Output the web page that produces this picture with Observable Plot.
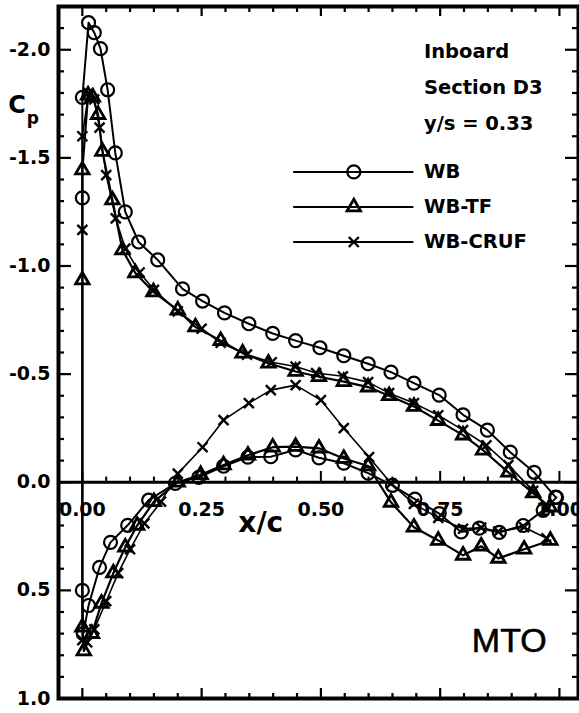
<!DOCTYPE html>
<html><head><meta charset="utf-8">
<script src="https://cdn.jsdelivr.net/npm/d3@7"></script>
<script src="https://cdn.jsdelivr.net/npm/@observablehq/plot@0.6"></script>
<style>body{margin:0;background:#fff}</style>
</head><body><div id="chart"></div>
<script>
// ---- data (x/c, Cp); "upper" lists start at the leading edge
const wbUpperX  = [0, 0, 0.013, 0.025, 0.038, 0.053, 0.069, 0.090, 0.118, 0.158, 0.210, 0.252, 0.298, 0.349, 0.399, 0.447, 0.498, 0.548, 0.599, 0.647, 0.695, 0.748, 0.798, 0.849, 0.897, 0.947, 0.992];
const wbUpperCp = [-1.315, -1.78, -2.125, -2.079, -2.005, -1.815, -1.523, -1.250, -1.111, -1.028, -0.894, -0.838, -0.783, -0.733, -0.688, -0.655, -0.622, -0.585, -0.548, -0.509, -0.458, -0.403, -0.312, -0.241, -0.139, -0.046, 0.069];
const wbLowerX  = [0, 0.002, 0.013, 0.036, 0.059, 0.095, 0.139, 0.195, 0.244, 0.296, 0.347, 0.395, 0.447, 0.496, 0.548, 0.599, 0.650, 0.697, 0.748, 0.794, 0.832, 0.874, 0.924, 0.966, 0.994];
const wbLowerCp = [0.50, 0.70, 0.57, 0.394, 0.278, 0.199, 0.083, 0.005, -0.023, -0.074, -0.116, -0.118, -0.150, -0.113, -0.088, -0.042, 0.014, 0.078, 0.145, 0.230, 0.212, 0.232, 0.200, 0.130, 0.070];

const tfUpperX  = [0, 0, 0.012, 0.022, 0.033, 0.042, 0.063, 0.084, 0.111, 0.149, 0.200, 0.237, 0.290, 0.336, 0.390, 0.447, 0.496, 0.548, 0.599, 0.643, 0.695, 0.746, 0.798, 0.840, 0.893, 0.945, 0.980];
const tfUpperCp = [-0.935, -1.444, -1.79, -1.78, -1.70, -1.53, -1.305, -1.074, -0.968, -0.880, -0.796, -0.718, -0.655, -0.597, -0.550, -0.512, -0.488, -0.465, -0.440, -0.400, -0.350, -0.285, -0.218, -0.148, -0.046, 0.050, 0.115];
const tfLowerX  = [0, 0.003, 0.020, 0.040, 0.065, 0.090, 0.115, 0.150, 0.200, 0.248, 0.296, 0.347, 0.399, 0.447, 0.496, 0.548, 0.599, 0.647, 0.695, 0.746, 0.798, 0.836, 0.872, 0.926, 0.981];
const tfLowerCp = [0.67, 0.78, 0.70, 0.56, 0.42, 0.30, 0.20, 0.09, 0.0, -0.035, -0.080, -0.125, -0.162, -0.165, -0.157, -0.110, -0.075, 0.093, 0.208, 0.269, 0.338, 0.296, 0.352, 0.310, 0.269];

const crufUpperX  = [0, 0, 0.013, 0.025, 0.036, 0.050, 0.070, 0.090, 0.120, 0.150, 0.200, 0.250, 0.290, 0.345, 0.397, 0.447, 0.490, 0.546, 0.599, 0.643, 0.695, 0.746, 0.798, 0.847, 0.893, 0.945, 0.975];
const crufUpperCp = [-1.167, -1.60, -1.80, -1.77, -1.64, -1.42, -1.22, -1.08, -0.97, -0.89, -0.79, -0.71, -0.645, -0.590, -0.555, -0.535, -0.505, -0.490, -0.463, -0.412, -0.366, -0.310, -0.241, -0.171, -0.079, 0.040, 0.120];
const crufLowerX  = [0, 0.010, 0.025, 0.050, 0.075, 0.100, 0.130, 0.165, 0.200, 0.252, 0.296, 0.349, 0.395, 0.447, 0.500, 0.548, 0.601, 0.647, 0.695, 0.746, 0.798, 0.836, 0.872, 0.926, 0.973];
const crufLowerCp = [0.73, 0.74, 0.68, 0.55, 0.42, 0.31, 0.19, 0.09, -0.04, -0.162, -0.287, -0.366, -0.426, -0.449, -0.380, -0.250, -0.116, 0.005, 0.100, 0.165, 0.215, 0.210, 0.228, 0.208, 0.259];

// ---- axes / labels
const xTickValues = [0, 0.25, 0.5, 0.75, 1.0];
const xTickLabels = ["0.00", "0.25", "0.50", "0.75", "1.00"];
const yTickValues = [-2.0, -1.5, -1.0, -0.5, 0.0, 0.5, 1.0];
const yTickLabels = ["-2.0", "-1.5", "-1.0", "-0.5", "0.0", "0.5", "1.0"];
const xMinor = d3.range(0, 21).map(i => i * 0.05);
const yMinor = d3.range(-22, 11).map(i => i / 10);

const legendNames = ["WB", "WB-TF", "WB-CRUF"];
const legendY     = [-1.435, -1.273, -1.111];
const noteLines   = ["Inboard", "Section D3", "y/s = 0.33"];
const noteY       = [-1.99, -1.824, -1.657];

function build(name, ux, uc, lx, lc) {
  const up = ux.map((x, i) => ({series: name, x, cp: uc[i]})).reverse();
  const lo = lx.map((x, i) => ({series: name, x, cp: lc[i]}));
  return [...up, ...lo];
}
const wb   = build("WB", wbUpperX, wbUpperCp, wbLowerX, wbLowerCp);
const tf   = build("WB-TF", tfUpperX, tfUpperCp, tfLowerX, tfLowerCp);
const cruf = build("WB-CRUF", crufUpperX, crufUpperCp, crufLowerX, crufLowerCp);

const W = 579, H = 713, mL = 58, mR = 1, mT = 6, mB = 15;
const PW = W - mL - mR, PH = H - mT - mB;
const isMajorY = v => Math.abs(v * 2 - Math.round(v * 2)) < 1e-6;
const isMajorX = v => Math.abs(v * 4 - Math.round(v * 4)) < 1e-6;
const tickFont = {fontFamily: "DejaVu Sans", fontWeight: "bold", fontSize: 19, fill: "black"};
const tk = {stroke: "black", strokeWidth: 2.2};

const circleStyle   = {symbol: "circle", r: 6.5, stroke: "black", strokeWidth: 2.2, fill: "none"};
const triangleStyle = {symbol: "triangle", r: 5, stroke: "black", strokeWidth: 2.8, fill: "none"};
const timesStyle    = {symbol: "times", r: 4.6, stroke: "black", strokeWidth: 2.4};

const chart = Plot.plot({
  width: W, height: H,
  marginLeft: mL, marginRight: mR, marginTop: mT, marginBottom: mB,
  x: {domain: [-0.05, 1.04], axis: null},
  y: {domain: [-2.2, 1.0], reverse: true, axis: null},
  style: {background: "white", fontFamily: "DejaVu Sans", overflow: "visible"},
  marks: [
    // tick labels (underneath the data)
    Plot.text(yTickValues, {y: d => d, text: (d, i) => yTickLabels[i], frameAnchor: "left", dx: -8, textAnchor: "end", ...tickFont}),
    Plot.text(xTickValues, {x: d => d, y: 0, text: (d, i) => xTickLabels[i], dy: 28, ...tickFont}),
    // ticks on the frame, pointing inward
    Plot.tickY(yMinor.filter(d => !isMajorY(d)), {y: d => d, ...tk, insetRight: PW - 6}),
    Plot.tickY(yMinor.filter(isMajorY), {y: d => d, ...tk, insetRight: PW - 13}),
    Plot.tickY(yMinor.filter(d => !isMajorY(d)), {y: d => d, ...tk, insetLeft: PW - 6}),
    Plot.tickY(yMinor.filter(isMajorY), {y: d => d, ...tk, insetLeft: PW - 13}),
    Plot.tickX(xMinor.filter(d => !isMajorX(d)), {x: d => d, ...tk, insetBottom: PH - 6}),
    Plot.tickX(xMinor.filter(isMajorX), {x: d => d, ...tk, insetBottom: PH - 10}),
    Plot.tickX(xMinor.filter(d => !isMajorX(d)), {x: d => d, ...tk, insetTop: PH - 5}),
    Plot.tickX(xMinor.filter(isMajorX), {x: d => d, ...tk, insetTop: PH - 10}),
    // x axis along Cp = 0
    Plot.ruleY([0], {stroke: "black", strokeWidth: 3.2}),
    Plot.ruleX(xMinor, {x: d => d, y1: 0, y2: d => isMajorX(d) ? -0.05 : -0.024, stroke: "black", strokeWidth: 2}),
    Plot.frame({stroke: "black", strokeWidth: 4}),
    // labels
    Plot.text(["C"], {x: -0.137, y: -1.745, text: d => d, fontFamily: "DejaVu Sans", fontWeight: "bold", fontSize: 24, fill: "black"}),
    Plot.text(["p"], {x: -0.104, y: -1.68, text: d => d, fontFamily: "DejaVu Sans", fontWeight: "bold", fontSize: 17, fill: "black"}),
    Plot.text(["x/c"], {x: 0.374, y: 0.19, text: d => d, fontFamily: "DejaVu Sans", fontWeight: "bold", fontSize: 28, fill: "black"}),
    Plot.text(["MTO"], {x: 0.895, y: 0.736, text: d => d, fontFamily: "Liberation Sans", fontSize: 34, fill: "black", stroke: "black", strokeWidth: 0.6}),
    Plot.text(noteLines, {x: 0.716, y: (d, i) => noteY[i], text: d => d, textAnchor: "start", fontFamily: "DejaVu Sans", fontWeight: "bold", fontSize: 19.5, fill: "black"}),
    // legend
    Plot.ruleY(legendY, {y: d => d, x1: 0.443, x2: 0.695, stroke: "black", strokeWidth: 2}),
    Plot.dot([legendY[0]], {x: 0.569, y: d => d, ...circleStyle}),
    Plot.dot([legendY[1]], {x: 0.569, y: d => d, ...triangleStyle}),
    Plot.dot([legendY[2]], {x: 0.569, y: d => d, ...timesStyle}),
    Plot.text(legendY, {x: 0.716, y: d => d, text: (d, i) => legendNames[i], textAnchor: "start", fontFamily: "DejaVu Sans", fontWeight: "bold", fontSize: 19.5, fill: "black"}),
    // data
    Plot.line(cruf, {x: "x", y: "cp", stroke: "black", strokeWidth: 1.6}),
    Plot.line(tf, {x: "x", y: "cp", stroke: "black", strokeWidth: 2.2}),
    Plot.line(wb, {x: "x", y: "cp", stroke: "black", strokeWidth: 2}),
    Plot.dot(cruf, {x: "x", y: "cp", ...timesStyle}),
    Plot.dot(tf, {x: "x", y: "cp", ...triangleStyle}),
    Plot.dot(wb, {x: "x", y: "cp", ...circleStyle})
  ]
});
document.getElementById("chart").appendChild(chart);
</script>
</body></html>
